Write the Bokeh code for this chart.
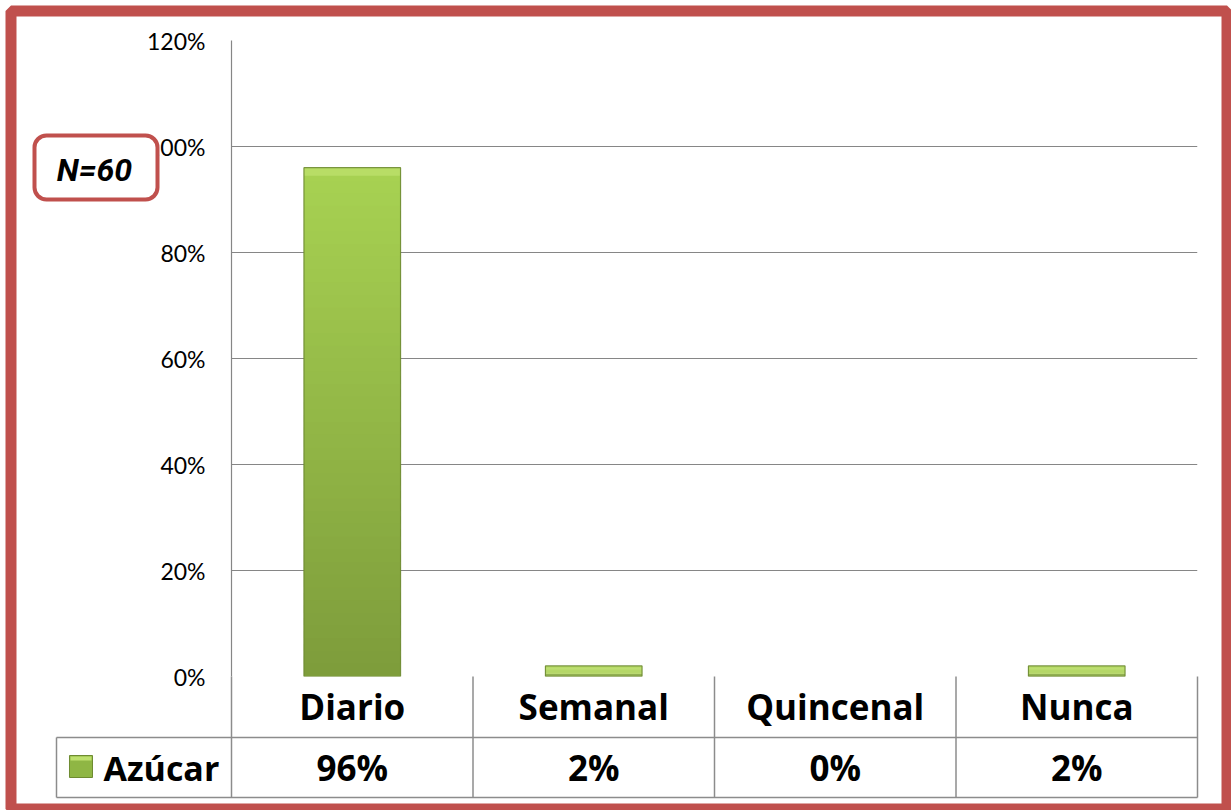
import numpy as np
from bokeh.plotting import figure
from bokeh.models import Range1d, NumeralTickFormatter, FixedTicker
from bokeh.core.properties import value
from bokeh.embed import file_html
from bokeh.resources import INLINE

# Data
categories = ["Diario", "Semanal", "Quincenal", "Nunca"]
azucar = [0.96, 0.02, 0.00, 0.02]
series_name = "Azúcar"
sample_note = "N=60"
y_ticks = [0, 0.2, 0.4, 0.6, 0.8, 1.0, 1.2]

# Canvas and plot-frame geometry (pixels)
W, H = 1231, 810
FL, FR, FT, FB = 231, 1197, 40, 676
YMAX = 1.2
NCAT = len(categories)


def dx(cx):
    """canvas x pixel -> data x on the factor axis"""
    return (cx - FL) / (FR - FL) * NCAT


def dy(cy):
    """canvas y pixel -> data y"""
    return (FB - cy) / (FB - FT) * YMAX


GRID = "#868686"
RED = "#C0504D"
FONT = "Open Sans"

p = figure(width=W, height=H, x_range=categories, y_range=Range1d(0, YMAX),
           output_backend="svg", toolbar_location=None,
           min_border_left=FL, min_border_right=W - FR,
           min_border_top=FT, min_border_bottom=H - FB)
p.outline_line_color = None
p.background_fill_color = "white"
p.border_fill_color = "white"
p.xgrid.grid_line_color = None
p.ygrid.grid_line_color = GRID
p.ygrid.grid_line_width = 1.2
p.xaxis.visible = False

ax = p.yaxis[0]
ax.ticker = FixedTicker(ticks=y_ticks)
ax.formatter = NumeralTickFormatter(format="0%")
ax.axis_line_color = GRID
ax.axis_line_width = 1.2
ax.major_tick_in = 0
ax.major_tick_out = 0
ax.minor_tick_in = 0
ax.minor_tick_out = 0
ax.major_label_standoff = 26
ax.major_label_text_font = "Lato"
ax.major_label_text_font_size = "23px"
ax.major_label_text_color = "black"

# Bars: vertical gradient built from slices of each bar's own value
n = 40
top_rgb = np.array([0xA8, 0xD2, 0x52])
bot_rgb = np.array([0x7D, 0x9C, 0x3B])
xs, bottoms, tops, cols = [], [], [], []
for cat, v in zip(categories, azucar):
    if v <= 0:
        continue
    for k in range(n):
        t = (k + 0.5) / n
        rgb = bot_rgb + (top_rgb - bot_rgb) * t
        xs.append(cat)
        bottoms.append(v * k / n)
        tops.append(min(v, v * (k + 1.6) / n))
        cols.append("#%02x%02x%02x" % tuple(int(round(c)) for c in rgb))
p.vbar(x=xs, bottom=bottoms, top=tops, width=0.4, fill_color=cols,
       line_color=None)

# bevel highlight along the top of each bar
bev = [min(v, dy(FB - 8)) for v in azucar]
p.vbar(x=categories, bottom=[v - b for v, b in zip(azucar, bev)], top=azucar,
       width=0.4, fill_color="#BEE06E", fill_alpha=0.75, line_color=None)
p.vbar(x=categories, bottom=0, top=azucar, width=0.4, fill_color=None,
       line_color="#6E8B31", line_width=1.2,
       line_alpha=[0.9 if v > 0 else 0 for v in azucar])

# Data table under the plot
TBL = "#8C8C8C"
row1, row2 = dy(737), dy(797)
left_tbl = dx(56)
seg_x0 = [i for i in range(NCAT + 1)] + [left_tbl, left_tbl, left_tbl]
seg_x1 = [i for i in range(NCAT + 1)] + [NCAT, NCAT, left_tbl]
seg_y0 = [0] * (NCAT + 1) + [row1, row2, row1]
seg_y1 = [row2] * (NCAT + 1) + [row1, row2, row2]
p.segment(x0=seg_x0, y0=seg_y0, x1=seg_x1, y1=seg_y1, line_color=TBL,
          line_width=1.5, level="overlay")

p.text(x=categories, y=[dy(706)] * NCAT, text=categories,
       text_font=value(FONT), text_font_style="bold", text_font_size="35px",
       text_align="center", text_baseline="middle", text_color="black",
       level="overlay")
p.text(x=categories, y=[dy(767)] * NCAT,
       text=[f"{round(v * 100)}%" for v in azucar],
       text_font=value(FONT), text_font_style="bold", text_font_size="35px",
       text_align="center", text_baseline="middle", text_color="black",
       level="overlay")

# legend key + series name
p.quad(left=dx(69), right=dx(92), top=dy(755), bottom=dy(777),
       fill_color="#8FB644", line_color="#6E8B31", line_width=1, level="overlay")
p.quad(left=dx(70), right=dx(91), top=dy(756), bottom=dy(760),
       fill_color="#BEE06E", line_color=None, level="overlay")
p.text(x=[dx(103)], y=[dy(767)], text=[series_name],
       text_font=value(FONT), text_font_style="bold", text_font_size="34px",
       text_align="left", text_baseline="middle", text_color="black",
       level="overlay")

# sample-size callout
p.quad(left=dx(34), right=dx(157), top=dy(135), bottom=dy(199),
       fill_color="white", line_color=RED, line_width=4, border_radius=12,
       level="overlay")
p.text(x=[dx(94)], y=[dy(169)], text=[sample_note],
       text_font=value("Roboto"), text_font_style="bold italic",
       text_font_size="32px", text_align="center", text_baseline="middle",
       text_color="black", level="overlay")

# outer frame
p.quad(left=dx(10.5), right=dx(1226.5), top=dy(10.5), bottom=dy(808.5),
       fill_color=None, line_color=RED, line_width=11, level="overlay")

open("out.html", "w").write(file_html(p, INLINE))
